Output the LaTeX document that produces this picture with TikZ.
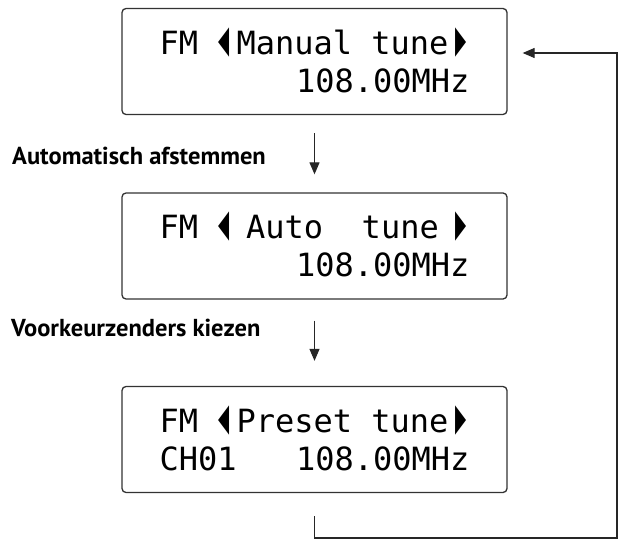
\documentclass[tikz,border=0pt]{standalone}
\usepackage{fontspec}
\setmonofont{DejaVu Sans Mono}
\setsansfont{PT Sans}
\newfontfamily\trifont{DejaVu Sans}
\usetikzlibrary{arrows.meta}

% small triangles of the display, one character cell each
\newcommand\ltri{\makebox[0.602em][l]{\kern0.05em\raisebox{0.07em}{\trifont\scalebox{0.45}[1.2]{◀}}}}
\newcommand\rtri{\makebox[0.602em][r]{\raisebox{0.07em}{\trifont\scalebox{0.45}[1.2]{▶}}\kern0.05em}}
\newcommand\cell{\kern0.602em}
\newcommand\hsp{\kern0.301em}

\tikzset{
  lcd/.style={draw=black!80, line width=1.3pt, rounded corners=4pt,
    minimum width=385pt, minimum height=106pt, text width=310pt,
    align=left, text height=24pt, text depth=38pt, inner sep=0pt,
    font=\ttfamily\fontsize{32}{38}\selectfont},
  lbl/.style={font=\sffamily\bfseries\fontsize{24.5}{28}\selectfont, inner sep=0pt},
  flow/.style={line width=1.1pt, draw=black!85, -{Stealth[length=12pt,width=10pt,inset=0pt]}}
}

\begin{document}
\begin{tikzpicture} [x=1pt,y=-1pt]
\useasboundingbox (0,0) rectangle (623,545);

\node [lcd] (manual) at (314.5,61.5)
  {FM\cell\ltri Manual\cell tune\rtri\\\hfill108.00MHz};

\node [lcd] (automatic) at (314.5,246)
  {FM\cell\ltri\hsp Auto\cell\cell tune\hsp\rtri\\\hfill108.00MHz};

\node [lcd] (preset) at (314.5,439.5)
  {FM\cell\ltri Preset\cell tune\rtri\\CH01\hfill108.00MHz};


\node [lbl, anchor=base west] (auto) at (12,165) {Automatisch afstemmen};
\node [lbl, anchor=base west] (pick) at (11,336) {Voorkeurzenders kiezen};


\draw [flow, shorten <=18pt, shorten >=18pt] (manual.south)--(automatic.north);
\draw [flow, shorten <=21pt, shorten >=25pt] (automatic.south)--(preset.north);

% back to the first display
\draw [flow] ([yshift=-23pt]preset.south) |- (617,538) |- ([xshift=15pt,yshift=8.5pt]manual.east);

\end{tikzpicture}
\end{document}
